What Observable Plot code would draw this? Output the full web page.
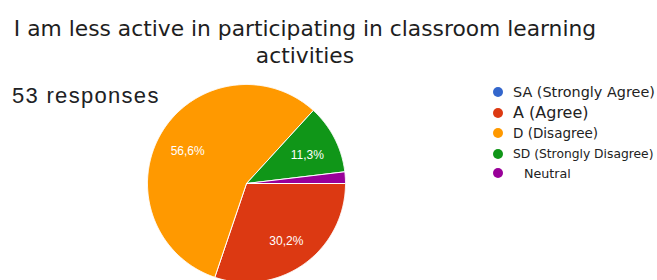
<!DOCTYPE html>
<html>
<head>
<meta charset="utf-8">
<script src="https://cdn.jsdelivr.net/npm/d3@7"></script>
<script src="https://cdn.jsdelivr.net/npm/@observablehq/plot@0.6"></script>
<style>
  html, body { margin: 0; padding: 0; background: #fff; }
  body { width: 657px; height: 280px; overflow: hidden; position: relative; }
  #title { position: absolute; left: 0; top: 15px; width: 610px; text-align: center;
           font-family: "DejaVu Sans", sans-serif; font-size: 21.8px; line-height: 27px; color: #1e1e1e; white-space: nowrap; }
  #resp { position: absolute; left: 12px; top: 83px; font-family: "Liberation Sans", Arial, sans-serif;
          font-size: 22px; letter-spacing: 1.3px; color: #202124; white-space: nowrap; }
  #chart { position: absolute; left: 0; top: 74px; }
  #legend { position: absolute; left: 0; top: 0; }
  .lg { position: absolute; left: 493px; display: flex; align-items: center; white-space: nowrap;
        font-family: "DejaVu Sans", sans-serif; color: #222; }
  .dot { width: 10px; height: 10px; border-radius: 50%; margin-right: 10px; flex: none; }
</style>
</head>
<body>
<div id="title">I am less active in participating in classroom learning<br>activities</div>
<div id="resp"></div>
<div id="chart"></div>
<div id="legend"></div>
<script>
// ---- data ----
const categories = ["SA (Strongly Agree)", "A (Agree)", "D (Disagree)", "SD (Strongly Disagree)", "Neutral"];
const counts = [0, 16, 30, 6, 1];
const colors = ["#3366cc", "#dc3912", "#ff9900", "#109618", "#990099"];
const totalResponses = 53;
const legendFontSizes = [14.4, 16, 13.5, 12.3, 12.7];
const legendIndent = [0, 0, 0, 0, 11];
const legendRowY = [92, 112.5, 133, 153.5, 173];

document.getElementById("resp").textContent = totalResponses + " responses";

// ---- pie geometry via d3.pie ----
const rows = categories.map((c, i) => ({cat: c, count: counts[i]}));
const pie = d3.pie().sort(null).value(d => d.count)
  .startAngle(Math.PI / 2).endAngle(Math.PI / 2 + 2 * Math.PI);
const arcs = pie(rows);
const pts = [];
const labels = [];
for (const a of arcs) {
  if (a.value <= 0) continue;
  const cat = a.data.cat;
  pts.push({cat, x: 0, y: 0});
  const n = Math.max(2, Math.ceil((a.endAngle - a.startAngle) / (Math.PI / 360)));
  for (let i = 0; i <= n; i++) {
    const t = a.startAngle + (a.endAngle - a.startAngle) * i / n;
    pts.push({cat, x: Math.sin(t), y: Math.cos(t)});
  }
  pts.push({cat, x: 0, y: 0});
  const pct = a.value / totalResponses * 100;
  if (pct >= 5) {
    const m = (a.startAngle + a.endAngle) / 2;
    labels.push({cat, x: 0.69 * Math.sin(m), y: 0.69 * Math.cos(m),
                 text: pct.toFixed(1).replace(".", ",") + "%"});
  }
}

const chart = Plot.plot({
  width: 657,
  height: 220,
  marginLeft: 147,
  marginRight: 312,
  marginTop: 10,
  marginBottom: 12,
  x: {domain: [-1, 1], axis: null},
  y: {domain: [-1, 1], axis: null},
  color: {domain: categories, range: colors},
  marks: [
    Plot.line(pts, {x: "x", y: "y", z: "cat", fill: "cat", stroke: "white", strokeWidth: 1, curve: "linear"}),
    Plot.text(labels, {x: "x", y: "y", text: "text", fill: "white", fontSize: 12, dy: 2.5,
                       fontFamily: "Liberation Sans, Arial, sans-serif"})
  ]
});
document.getElementById("chart").appendChild(chart);

// ---- legend ----
const lg = document.getElementById("legend");
categories.forEach((c, i) => {
  const row = document.createElement("div");
  row.className = "lg";
  row.style.top = (legendRowY[i] - 12) + "px";
  row.style.height = "24px";
  row.style.fontSize = legendFontSizes[i] + "px";
  const dot = document.createElement("span");
  dot.className = "dot";
  dot.style.background = colors[i];
  dot.style.marginRight = (10 + legendIndent[i]) + "px";
  const txt = document.createElement("span");
  txt.textContent = c;
  row.appendChild(dot);
  row.appendChild(txt);
  lg.appendChild(row);
});
</script>
</body>
</html>
